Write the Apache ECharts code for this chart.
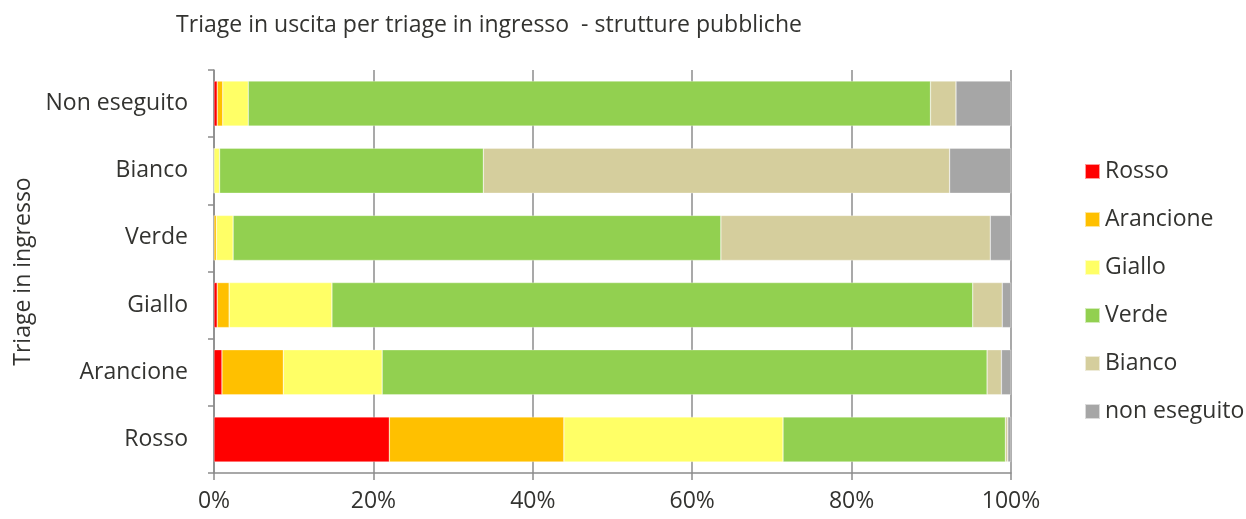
<!DOCTYPE html>
<html>
<head>
<meta charset="utf-8">
<script src="https://cdn.jsdelivr.net/npm/echarts@6/dist/echarts.min.js"></script>
<style>html,body{margin:0;padding:0;background:#fff}#c{width:1246px;height:519px}</style>
</head>
<body>
<div id="c"></div>
<script>
const categories = ['Rosso', 'Arancione', 'Giallo', 'Verde', 'Bianco', 'Non eseguito'];
const seriesNames = ['Rosso', 'Arancione', 'Giallo', 'Verde', 'Bianco', 'non eseguito'];
const rosso      = [22.0, 1.0, 0.4, 0.0, 0.0, 0.4];
const arancione  = [21.9, 7.7, 1.5, 0.3, 0.0, 0.7];
const giallo     = [27.5, 12.4, 12.9, 2.1, 0.7, 3.2];
const verde      = [27.9, 75.9, 80.4, 61.2, 33.1, 85.6];
const bianco     = [0.3, 1.8, 3.7, 33.8, 58.5, 3.2];
const nonEseguito = [0.4, 1.2, 1.1, 2.6, 7.7, 6.9];
const xTicks = [0, 20, 40, 60, 80, 100];

const colors = ['#FF0000', '#FFC000', '#FFFF66', '#92D050', '#D5CE9D', '#A6A6A6'];
const values = [rosso, arancione, giallo, verde, bianco, nonEseguito];
const font = 'Open Sans';
const txt = '#333330';
const fs = 23;

const chart = echarts.init(document.getElementById('c'));
chart.setOption({
  animation: false,
  title: {
    text: 'Triage in uscita per triage in ingresso  - strutture pubbliche',
    left: 484, top: 9, textAlign: 'center',
    textStyle: { fontFamily: font, fontSize: fs, fontWeight: 'normal', color: txt }
  },
  legend: {
    orient: 'vertical', left: 1079, top: 155,
    itemWidth: 15, itemHeight: 15, itemGap: 25,
    icon: 'rect',
    textStyle: { fontFamily: font, fontSize: fs, lineHeight: 23, color: txt },
    data: seriesNames
  },
  grid: { left: 214, right: 235, top: 70, bottom: 46, containLabel: false },
  xAxis: {
    type: 'value', min: 0, max: 100, interval: 20,
    axisLine: { show: true, lineStyle: { color: '#8c8c8c', width: 1.5 } },
    axisTick: { show: true, length: 7, lineStyle: { color: '#8c8c8c', width: 1.5 } },
    splitLine: { show: true, lineStyle: { color: '#8c8c8c', width: 1.5 } },
    axisLabel: { formatter: v => v + '%', fontFamily: font, fontSize: fs, color: txt, margin: 17 }
  },
  yAxis: {
    type: 'category', data: categories,
    name: 'Triage in ingresso', nameLocation: 'middle', nameGap: 174,
    nameTextStyle: { fontFamily: font, fontSize: fs, color: txt },
    axisLine: { show: true, lineStyle: { color: '#8c8c8c', width: 1.5 } },
    axisTick: { show: true, length: 6, lineStyle: { color: '#8c8c8c', width: 1.5 } },
    axisLabel: { fontFamily: font, fontSize: fs, color: txt, margin: 26 }
  },
  series: seriesNames.map((n, i) => ({
    name: n, type: 'bar', stack: 'all', barWidth: 45,
    itemStyle: { color: colors[i], borderColor: 'rgba(255,255,255,0.6)', borderWidth: 0.5 },
    data: values[i]
  }))
});
</script>
</body>
</html>
